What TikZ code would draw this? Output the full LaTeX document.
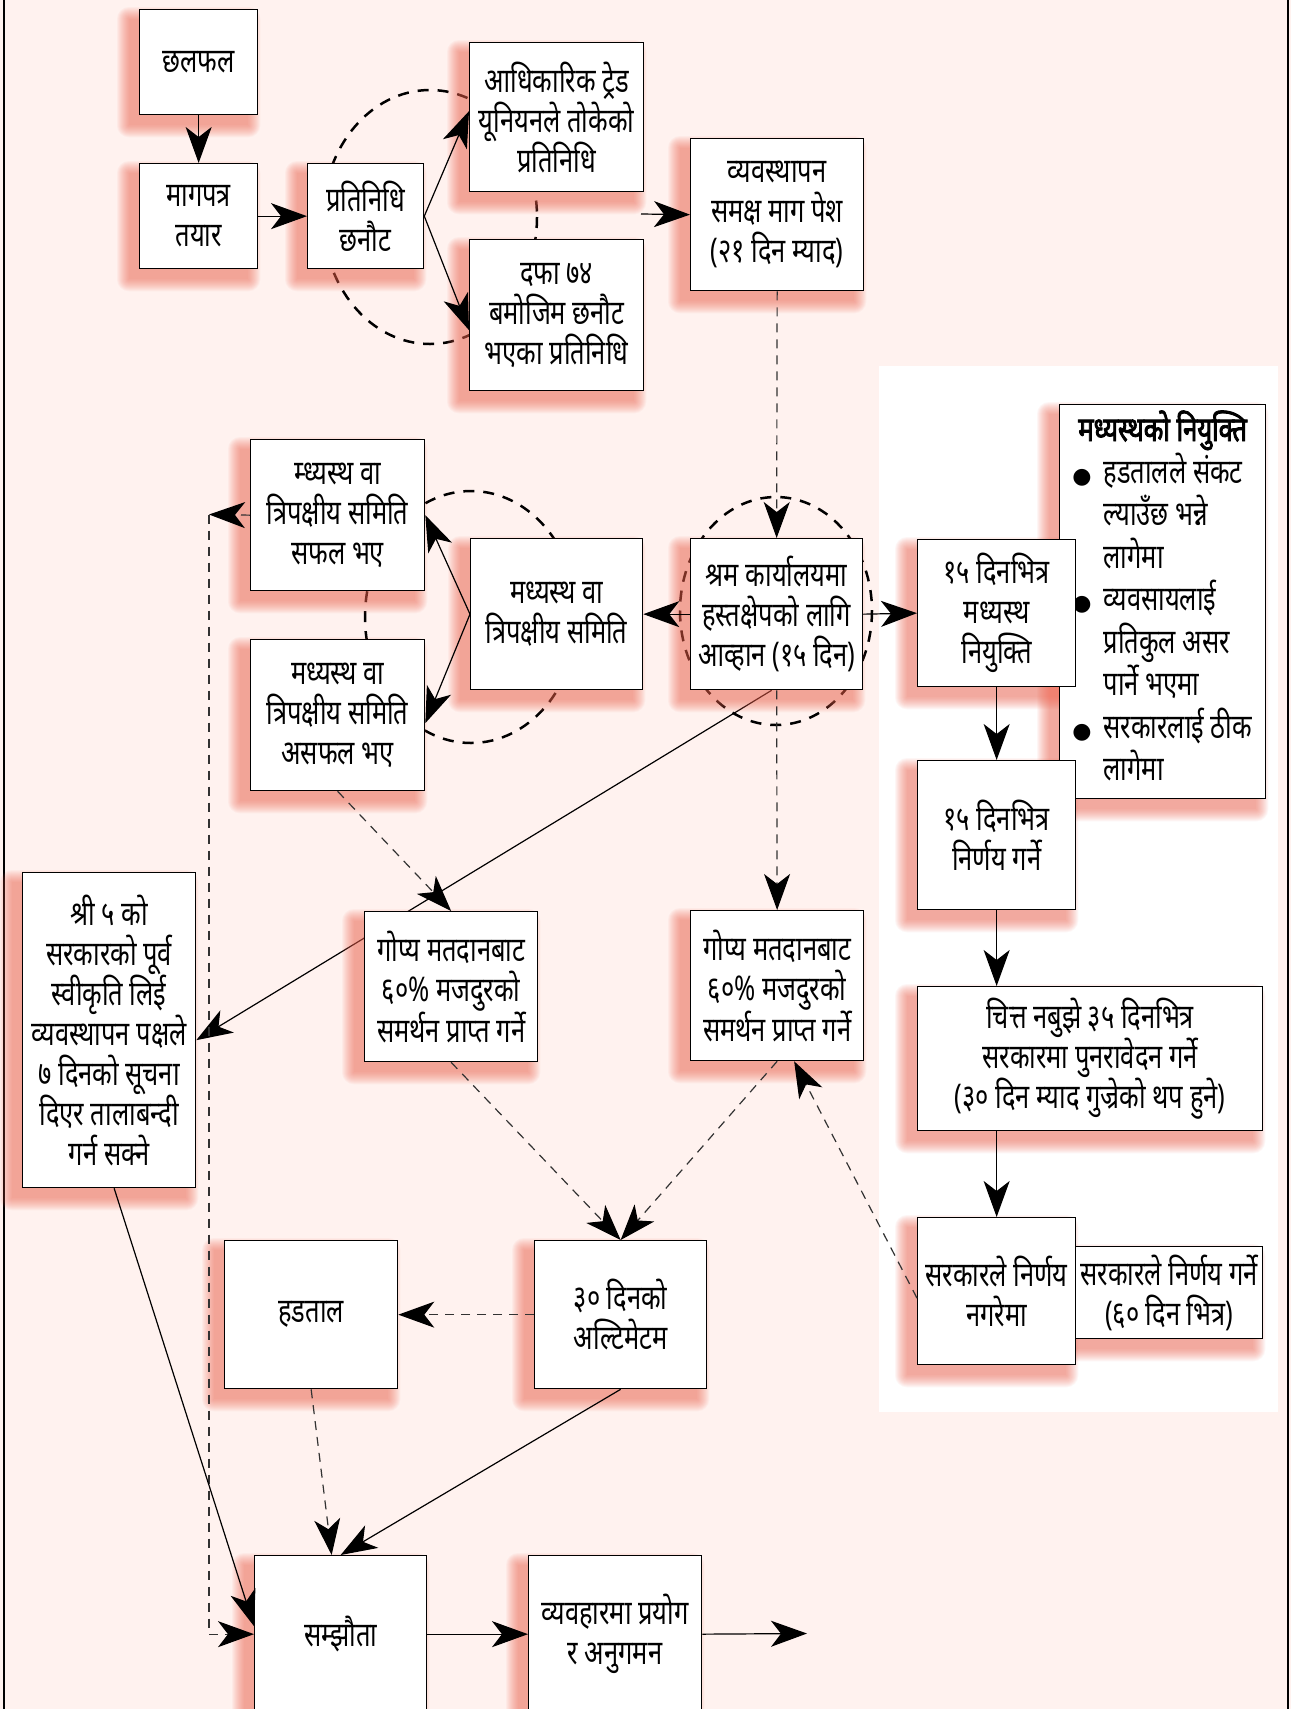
\documentclass[tikz,border=0pt]{standalone}
\usepackage{fontspec}
\setmainfont{Noto Sans}[Script=Devanagari,FakeStretch=0.75]
\newfontfamily\headfont{Noto Sans}[Script=Devanagari,FakeStretch=0.75,FakeBold=2.5]
\newfontfamily\symfont{DejaVu Sans}
\usetikzlibrary{arrows.meta,calc}
\definecolor{bgpink}{RGB}{255,242,239}
\definecolor{shcol}{RGB}{240,100,80}
\definecolor{dashgray}{RGB}{50,50,50}
\pgfdeclarelayer{back}
\pgfdeclarelayer{shadowl}
\pgfsetlayers{back,shadowl,main}
\newcommand\boxfont{\fontsize{34}{40}\selectfont}
\newcommand\bul{{\symfont\fontsize{22}{40}\selectfont ●}}
\newcommand\glow[1]{%
  \foreach \e in {0,1,...,12}{%
    \fill[shcol, opacity=0.055, rounded corners=\e pt]
      ($(#1.north west)+(-10-\e,10-\e)$) rectangle ($(#1.south east)+(-10+\e,10+\e)$);
  }}
\tikzset{
  box/.style={draw=black, line width=1.3pt, fill=white, anchor=north west,
    inner sep=0pt, align=center, font=\boxfont},
  conn/.style={line width=1.2pt, -{Stealth[length=36pt,width=26pt,inset=10pt,color=black]}},
  dconn/.style={conn, draw=dashgray, dash pattern=on 9pt off 7pt},
  ell/.style={line width=2.5pt, dash pattern=on 11pt off 9pt},
  frame/.style={line width=2.5pt}
}
\begin{document}
\begin{tikzpicture}[x=1pt,y=-1pt]
\useasboundingbox (0,0) rectangle (1291,1709);
\begin{pgfonlayer}{back}
\fill[bgpink] (0,0) rectangle (1291,1709);
\fill[white] (879,366) rectangle (1278,1412);
\draw[frame] (4,0) -- (4,1709);
\draw[frame] (1288,0) -- (1288,1709);
\draw[ell] (430,217) ellipse [x radius=107, y radius=127];
\draw[ell] (471,617) ellipse [x radius=106, y radius=126];
\draw[ell] (776,611) ellipse [x radius=96, y radius=114];
\end{pgfonlayer}

% boxes
\node[box, minimum width=118, minimum height=105] (chalfal) at (139,9) {छलफल};
\node[box, minimum width=118, minimum height=105] (magpatra) at (139,163) {मागपत्र\\तयार};
\node[box, minimum width=116, minimum height=105] (pratinidhi) at (307,163) {प्रतिनिधि\\छनौट};
\node[box, minimum width=174, minimum height=149] (adhikarik) at (469,42) {आधिकारिक ट्रेड\\यूनियनले तोकेको\\प्रतिनिधि};
\node[box, minimum width=174, minimum height=151] (dafa) at (469,239) {दफा ७४\\बमोजिम छनौट\\भएका प्रतिनिधि};
\node[box, minimum width=173, minimum height=152] (byabasthapan) at (690,138) {व्यवस्थापन\\समक्ष माग पेश\\(२१ दिन म्याद)};
\node[box, minimum width=174, minimum height=151] (safal) at (250,439) {म्ध्यस्थ वा\\त्रिपक्षीय समिति\\सफल भए};
\node[box, minimum width=174, minimum height=151] (asafal) at (250,639) {मध्यस्थ वा\\त्रिपक्षीय समिति\\असफल भए};
\node[box, minimum width=172, minimum height=151] (madhyastha) at (470,538) {मध्यस्थ वा\\त्रिपक्षीय समिति};
\node[box, minimum width=172, minimum height=151] (shram) at (690,538) {श्रम कार्यालयमा\\हस्तक्षेपको लागि\\आव्हान (१५ दिन)};
\node[box, minimum width=206, minimum height=394] (note) at (1059,404) {%
  \begin{tabular}{@{}c@{\hspace{12pt}}l@{}}
  \multicolumn{2}{c}{\headfont मध्यस्थको नियुक्ति}\\
  \bul & हडतालले संकट\\
   & ल्याउँछ भन्ने\\
   & लागेमा\\
  \bul & व्यवसायलाई\\
   & प्रतिकुल असर\\
   & पार्ने भएमा\\
  \bul & सरकारलाई ठीक\\
   & लागेमा
  \end{tabular}};
\node[box, minimum width=158, minimum height=147] (niyukti) at (917,539) {१५ दिनभित्र\\मध्यस्थ\\नियुक्ति};
\node[box, minimum width=158, minimum height=149] (nirnaya) at (917,760) {१५ दिनभित्र\\निर्णय गर्ने};
\node[box, minimum width=345, minimum height=144] (chitta) at (917,986) {चित्त नबुझे ३५ दिनभित्र\\सरकारमा पुनरावेदन गर्ने\\(३० दिन म्याद गुज्रेको थप हुने)};
\node[box, minimum width=187, minimum height=92] (sarkarle) at (1075,1246) {सरकारले निर्णय गर्ने\\(६० दिन भित्र)};
\node[box, minimum width=158, minimum height=147] (nagarema) at (917,1217) {सरकारले निर्णय\\नगरेमा};
\node[box, minimum width=173, minimum height=315] (shri) at (22,872) {श्री ५ को\\सरकारको पूर्व\\स्वीकृति लिई\\व्यवस्थापन पक्षले\\७ दिनको सूचना\\दिएर तालाबन्दी\\गर्न सक्ने};
\node[box, minimum width=173, minimum height=150] (gopyaA) at (364,911) {गोप्य मतदानबाट\\६०\% मजदुरको\\समर्थन प्राप्त गर्ने};
\node[box, minimum width=173, minimum height=150] (gopyaB) at (690,910) {गोप्य मतदानबाट\\६०\% मजदुरको\\समर्थन प्राप्त गर्ने};
\node[box, minimum width=173, minimum height=148] (hadtal) at (224,1240) {हडताल};
\node[box, minimum width=172, minimum height=148] (ultimatum) at (534,1240) {३० दिनको\\अल्टिमेटम};
\node[box, minimum width=172, minimum height=157] (samjhauta) at (254,1555) {सम्झौता};
\node[box, minimum width=173, minimum height=157] (byabahar) at (528,1555) {व्यवहारमा प्रयोग\\र अनुगमन};

% glows
\begin{pgfonlayer}{shadowl}
\foreach \n in {chalfal,magpatra,pratinidhi,adhikarik,dafa,byabasthapan,safal,asafal,madhyastha,shram,note,niyukti,nirnaya,chitta,sarkarle,nagarema,shri,gopyaA,gopyaB,hadtal,ultimatum,samjhauta,byabahar}{\glow{\n}}
\end{pgfonlayer}

% connector behind boxes
\begin{pgfonlayer}{back}
\draw[conn] ([xshift=-5pt]shram.south) -- ([yshift=-10pt]shri.east);
\end{pgfonlayer}

% connectors
\coordinate (startA) at (641,214);
\coordinate (leftL) at (209,514.5);
\coordinate (endR) at (807,1633.5);
\draw[conn] (chalfal.south) -- (magpatra.north);
\draw[conn] (magpatra.east) -- (pratinidhi.west);
\draw[conn] (pratinidhi.east) -- ([yshift=6pt]adhikarik.west);
\draw[conn] (pratinidhi.east) -- ([yshift=-15pt]dafa.west);
\draw[conn] (startA) -- (byabasthapan.west);
\draw[dconn] (byabasthapan.south) -- (shram.north);
\draw[conn] (shram.west) -- (madhyastha.east);
\draw[conn] (madhyastha.west) -- (safal.east);
\draw[conn] (madhyastha.west) -- ([yshift=-8pt]asafal.east);
\draw[conn] (shram.east) -- (niyukti.west);
\draw[conn] (niyukti.south) -- (nirnaya.north);
\draw[conn] (nirnaya.south) -- (nirnaya.south |- chitta.north);
\draw[conn] (nagarema.north |- chitta.south) -- (nagarema.north);
\draw[dconn] (safal.west) -- (leftL);
\draw[dconn] (leftL) |- (samjhauta.west);
\draw[dconn] (asafal.south) -- (gopyaA.north);
\draw[dconn] (shram.south) -- (gopyaB.north);
\draw[dconn] (gopyaA.south) -- (ultimatum.north);
\draw[dconn] (gopyaB.south) -- (ultimatum.north);
\draw[dconn] ([yshift=-7pt]nagarema.west) -- ([xshift=17pt]gopyaB.south);
\draw[dconn] (ultimatum.west) -- (hadtal.east);
\draw[dconn] (hadtal.south) -- ([xshift=-9pt]samjhauta.north);
\draw[conn] (ultimatum.south) -- (samjhauta.north);
\draw[conn] ([xshift=5pt]shri.south) -- ([yshift=8pt]samjhauta.west);
\draw[conn] (samjhauta.east) -- (byabahar.west);
\draw[conn] (byabahar.east) -- (endR);
\end{tikzpicture}
\end{document}
